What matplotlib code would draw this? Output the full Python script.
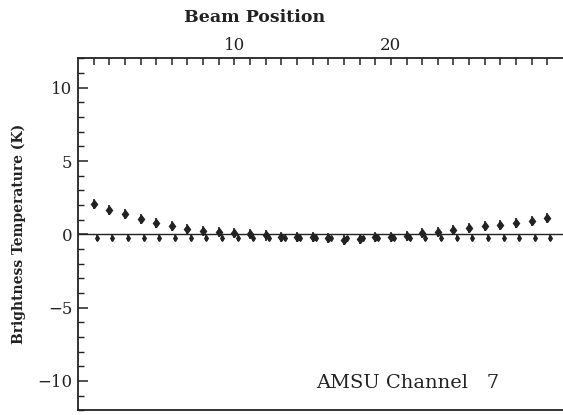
import matplotlib
matplotlib.use("Agg")
import matplotlib.pyplot as plt
from matplotlib.ticker import MultipleLocator, FixedLocator

INK = "#222222"

# beam positions and mean brightness temperature bias (K)
beam = list(range(1, 31))
bias = [2.05, 1.66, 1.38, 1.04, 0.75, 0.57, 0.38, 0.25, 0.18, 0.07,
        0.00, -0.07, -0.16, -0.20, -0.20, -0.27, -0.39, -0.34, -0.20, -0.16,
        -0.10, 0.07, 0.18, 0.29, 0.41, 0.59, 0.63, 0.75, 0.90, 1.09]
bias_err = [0.35] * 30
# residual after correction (hanging marks just under the zero line)
resid = [-0.22, -0.22, -0.22, -0.22, -0.22, -0.22, -0.22, -0.22, -0.22, -0.22,
         -0.22, -0.24, -0.25, -0.26, -0.27, -0.28, -0.28, -0.28, -0.26, -0.25,
         -0.24, -0.23, -0.22, -0.22, -0.22, -0.22, -0.22, -0.22, -0.22, -0.22]
resid_err = [0.2] * 30

plt.rcParams["font.family"] = ["DejaVu Serif"]

fig = plt.figure(figsize=(5.63, 4.15), dpi=100)
ax = fig.add_axes([0.1385, 0.0113, 0.8615, 0.848])

ax.axhline(0, color=INK, lw=1.0, zorder=1)
ax.errorbar(beam, bias, yerr=bias_err, fmt="d", ms=4.5, color=INK,
            ecolor=INK, elinewidth=1.2, capsize=0, zorder=3)
ax.errorbar([b + 0.2 for b in beam], resid, yerr=resid_err, fmt="d", ms=3,
            color=INK, ecolor=INK, elinewidth=1.2, capsize=0, zorder=3)

ax.set_xlim(0, 31)
ax.set_ylim(-12, 12)

# y axis: majors every 5, minors every 1, ticks inward
ax.yaxis.set_major_locator(MultipleLocator(5))
ax.yaxis.set_minor_locator(MultipleLocator(1))
ax.tick_params(axis="y", which="major", direction="in", length=7, width=1.1,
               labelsize=12, colors=INK, pad=4, right=False)
ax.tick_params(axis="y", which="minor", direction="in", length=4, width=1.0,
               colors=INK, right=False)

# x axis: ticks on top at every beam position, labels at 10 and 20
ax.xaxis.tick_top()
ax.xaxis.set_label_position("top")
ax.xaxis.set_major_locator(FixedLocator([10, 20]))
ax.xaxis.set_minor_locator(FixedLocator(beam))
ax.tick_params(axis="x", which="both", direction="in", length=5, width=1.1,
               labelsize=12, colors=INK, pad=3, bottom=False)

for s in ax.spines.values():
    s.set_linewidth(1.3)
    s.set_color(INK)
ax.spines["right"].set_visible(False)

ax.set_xlabel("Beam Position", fontsize=12.5, fontweight="bold", color=INK)
ax.xaxis.set_label_coords(0.365, 1.103)
ax.set_ylabel("Brightness Temperature (K)", fontsize=10, fontweight="bold",
              color=INK)
ax.yaxis.set_label_coords(-0.107, 0.5)

ax.text(0.68, 0.077, "AMSU Channel   7", transform=ax.transAxes,
        fontsize=14, color=INK, ha="center", va="center")

fig.savefig("out.png", dpi=100)
